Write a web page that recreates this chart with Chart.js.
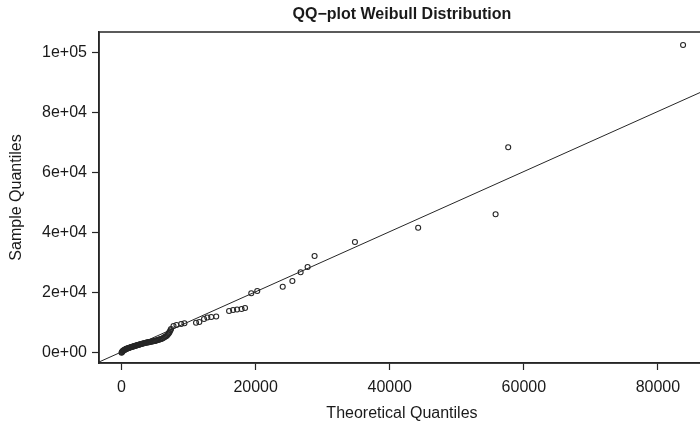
<!DOCTYPE html>
<html>
<head>
<meta charset="utf-8">
<script src="https://cdn.jsdelivr.net/npm/chart.js@4/dist/chart.umd.min.js"></script>
<style>
  html, body { margin: 0; padding: 0; background: #fff; overflow: hidden; }
  #wrap { width: 700px; height: 427px; overflow: hidden; position: relative; }
  #box { width: 710px; height: 427px; position: absolute; left: 0; top: 0; }
</style>
</head>
<body>
<div id="wrap"><div id="box"><canvas id="qq"></canvas></div></div>
<script>
  // QQ data (theoretical vs sample quantiles)
  const theoretical = [
    0, 60, 120, 190, 260, 340, 420, 500, 590, 680, 770, 860, 960, 1060, 1160, 1260, 1370, 1480, 1590, 1700,
    1810, 1930, 2050, 2170, 2290, 2410, 2540, 2670, 2800, 2930, 3060, 3200, 3340, 3480, 3620, 3760, 3910, 4060,
    4210, 4360, 4510, 4670, 4830, 4990, 5150, 5310, 5470, 5640, 5810, 5980, 6150, 6320, 6490, 6660, 6820, 6960,
    7080, 7190, 7290, 7380,
    7750, 8190, 8890, 9380, 11110, 11600, 12300, 12790, 13380, 14120, 16040, 16640, 17230, 17900, 18420,
    19350, 20240, 24040, 25480, 26710, 27750, 28790, 34810, 44240, 55790, 57670, 83750
  ];
  const sample = [
    0, 180, 360, 560, 680, 800, 900, 1000, 1130, 1260, 1330, 1410, 1480, 1560, 1650, 1750, 1830, 1900, 1980, 2050,
    2120, 2200, 2290, 2370, 2450, 2530, 2620, 2700, 2790, 2880, 2970, 3050, 3150, 3250, 3310, 3380, 3440, 3510,
    3580, 3650, 3720, 3790, 3860, 3940, 4040, 4160, 4270, 4380, 4510, 4640, 4790, 5040, 5280, 5500, 5800, 6200,
    6600, 7000, 7450, 7900,
    8900, 9230, 9570, 9800, 10000, 10230, 11230, 11730, 11900, 12070, 13900, 14230, 14400, 14570, 14900,
    19800, 20570, 22000, 23900, 26800, 28570, 32230, 36900, 41670, 46130, 68470, 102570
  ];
  // reference line (qqline) end points
  const lineX = [-5000, 95000];
  const lineY = [-4743, 95457];

  const xTicks = [0, 20000, 40000, 60000, 80000];
  const yTicks = [0, 20000, 40000, 60000, 80000, 100000];
  const yTickLabels = ['0e+00', '2e+04', '4e+04', '6e+04', '8e+04', '1e+05'];

  const ink = '#262626';
  const fontFam = '"Liberation Sans", Arial, Helvetica, sans-serif';

  const points = theoretical.map((x, i) => ({ x: x, y: sample[i] }));
  const refLine = lineX.map((x, i) => ({ x: x, y: lineY[i] }));

  // title, axis titles and the box around the plot, R style
  const rDecor = {
    id: 'rDecor',
    afterDraw(chart) {
      const { ctx, chartArea: a } = chart;
      ctx.save();
      ctx.strokeStyle = ink;
      ctx.lineWidth = 1.5;
      ctx.strokeRect(a.left, a.top, a.right - a.left, a.bottom - a.top);
      ctx.fillStyle = '#1a1a1a';
      ctx.textAlign = 'center';
      ctx.textBaseline = 'middle';
      const cx = (a.left + a.right) / 2;
      ctx.font = 'bold 16px ' + fontFam;
      ctx.fillText('QQ\u2212plot Weibull Distribution', cx, 15);
      ctx.font = '16px ' + fontFam;
      ctx.fillText('Theoretical Quantiles', cx, 414);
      ctx.translate(17, (a.top + a.bottom) / 2);
      ctx.rotate(-Math.PI / 2);
      ctx.fillText('Sample Quantiles', 0, 0);
      ctx.restore();
    }
  };

  new Chart(document.getElementById('qq').getContext('2d'), {
    type: 'scatter',
    data: {
      datasets: [
        {
          data: points,
          showLine: false,
          pointStyle: 'circle',
          pointRadius: 2.5,
          pointBorderWidth: 1.1,
          borderColor: ink,
          backgroundColor: 'rgba(0,0,0,0)',
          pointBackgroundColor: 'rgba(0,0,0,0)'
        },
        {
          data: refLine,
          showLine: true,
          pointRadius: 0,
          borderColor: ink,
          borderWidth: 1
        }
      ]
    },
    options: {
      responsive: true,
      maintainAspectRatio: false,
      animation: false,
      events: [],
      layout: { padding: { top: 32, right: 1, left: 0, bottom: 0 } },
      plugins: {
        legend: { display: false },
        tooltip: { enabled: false },
        title: { display: false }
      },
      scales: {
        x: {
          type: 'linear',
          min: -3363,
          max: 87007,
          afterBuildTicks: s => { s.ticks = xTicks.map(v => ({ value: v })); },
          afterFit: s => { s.height = 64; },
          ticks: {
            color: '#1a1a1a',
            font: { family: fontFam, size: 16 },
            padding: 8,
            maxRotation: 0,
            callback: v => String(v)
          },
          grid: { display: true, drawOnChartArea: false, drawTicks: true, tickLength: 7, tickWidth: 1.2, tickColor: ink },
          border: { display: true, color: ink, width: 1.5 }
        },
        y: {
          type: 'linear',
          min: -3433,
          max: 106900,
          afterBuildTicks: s => { s.ticks = yTicks.map(v => ({ value: v })); },
          afterFit: s => { s.width = 99; },
          ticks: {
            color: '#1a1a1a',
            font: { family: fontFam, size: 16 },
            padding: 5,
            callback: v => yTickLabels[yTicks.indexOf(v)]
          },
          grid: { display: true, drawOnChartArea: false, drawTicks: true, tickLength: 7, tickWidth: 1.2, tickColor: ink },
          border: { display: true, color: ink, width: 1.5 }
        }
      }
    },
    plugins: [rDecor]
  });
</script>
</body>
</html>
